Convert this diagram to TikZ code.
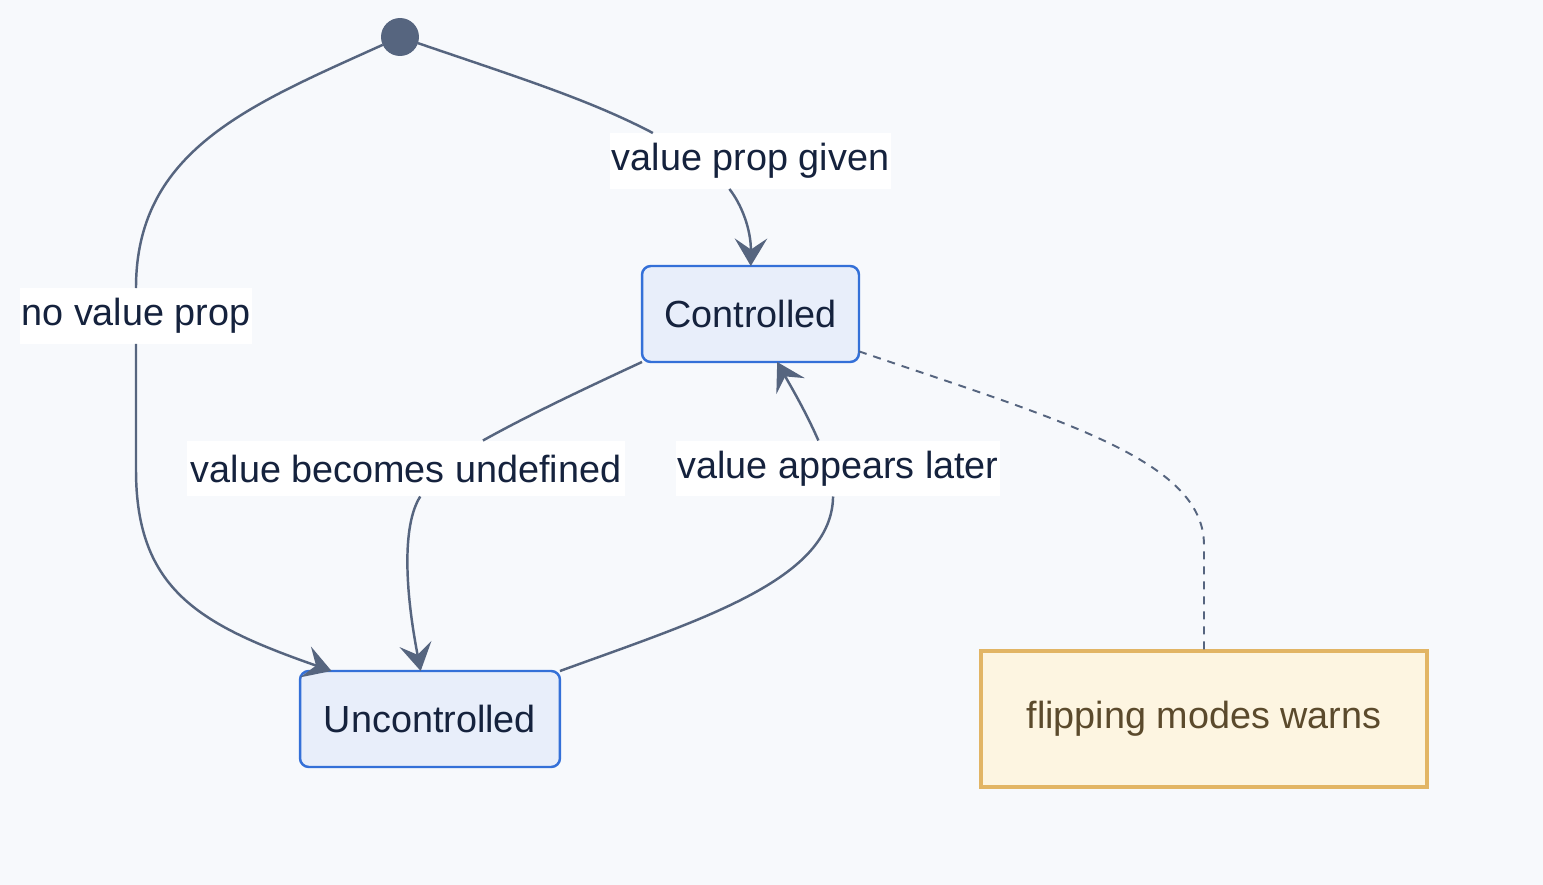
\documentclass[tikz,border=0pt]{standalone}
\usepackage{fontspec}
\setmainfont{Liberation Sans}
\usetikzlibrary{arrows.meta}

\definecolor{bgcol}{HTML}{F7F9FC}
\definecolor{edgecol}{HTML}{56657F}
\definecolor{statefill}{HTML}{E8EEFA}
\definecolor{stateline}{HTML}{3470D8}
\definecolor{notefill}{HTML}{FDF5E1}
\definecolor{noteline}{HTML}{E2B565}
\definecolor{notetext}{HTML}{5B4A2C}
\definecolor{textcol}{HTML}{15223D}

\begin{document}
\begin{tikzpicture}[x=0.02cm, y=-0.02cm,
  every node/.style={font=\fontsize{21.5}{25}\selectfont, text=textcol, outer sep=0pt},
  state/.style={draw=stateline, fill=statefill, line width=1.4pt, rounded corners=5pt, minimum height=1.92cm},
  note/.style={draw=noteline, fill=notefill, line width=2.2pt, minimum width=8.92cm, minimum height=2.72cm, text=notetext},
  lbl/.style={fill=white, inner sep=0pt, minimum height=1.12cm},
  edge/.style={draw=edgecol, line width=1.4pt},
  tip/.style={-{Stealth[length=0.55cm, width=0.65cm, inset=0.22cm]}}]

\fill[bgcol] (0,0) rectangle (1543,885);
\useasboundingbox (0,0) rectangle (1543,885);

% states
\node[circle, fill=edgecol, minimum size=0.76cm, inner sep=0pt] (start) at (400,37) {};
\node[state, minimum width=4.34cm] (ctrl) at (750.5,314) {Controlled};
\node[state, minimum width=5.2cm] (unctrl) at (430,719) {Uncontrolled};
\node[note] (warn) at (1204,719) {flipping modes warns};

% labels
\node[lbl, minimum width=4.64cm] (nolbl) at (136,316) {no value prop};
\node[lbl, minimum width=5.62cm] (givenlbl) at (750.5,161) {value prop given};
\node[lbl, minimum width=8.78cm] (becomeslbl) at (406,468.5) {value becomes undefined};
\node[lbl, minimum width=6.48cm] (appearslbl) at (838,468.5) {value appears later};

% transitions
\draw[edge] (start) .. controls (250,105) and (136,150) .. (nolbl);
\draw[edge, tip] (nolbl) -- (136,470) .. controls (136,590) and (200,625) .. (unctrl.154);

\draw[edge] (start) .. controls (520,78) and (590,100) .. (givenlbl.164);
\draw[edge, tip] (givenlbl.233) .. controls (742,205) and (751,230) .. (ctrl);

\draw[edge] (ctrl.south west) .. controls (560,400) and (520,420) .. (becomeslbl.20);
\draw[edge, tip] (becomeslbl.-63) .. controls (402,525) and (405,590) .. (unctrl);

\draw[edge] (unctrl.north east) .. controls (700,620) and (832,580) .. (appearslbl.-100);
\draw[edge, tip] (appearslbl.125) .. controls (805,410) and (790,385) .. (ctrl);

% note link
\draw[edge, line width=1.1pt, dash pattern=on 0.16cm off 0.14cm] (ctrl.-19) .. controls (1060,420) and (1204,460) .. (1204,545) -- (warn);
\end{tikzpicture}
\end{document}
